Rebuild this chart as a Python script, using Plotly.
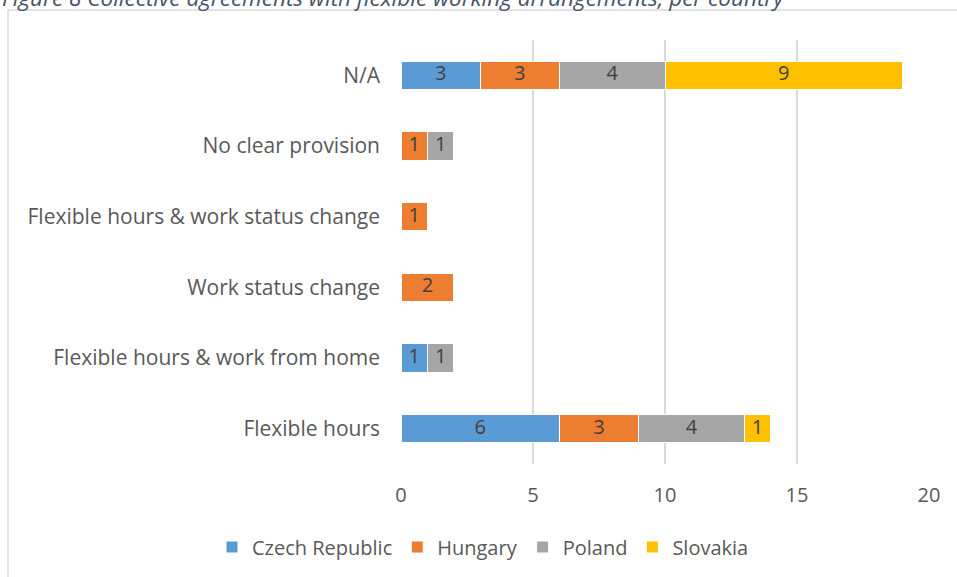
import plotly.graph_objects as go

categories = [
    "Flexible hours",
    "Flexible hours & work from home",
    "Work status change",
    "Flexible hours & work status change",
    "No clear provision",
    "N/A",
]
czech = [6, 1, None, None, None, 3]
hungary = [3, None, 2, 1, 1, 3]
poland = [4, 1, None, None, 1, 4]
slovakia = [1, None, None, None, None, 9]

series = [
    ("Czech Republic", czech, "#5B9BD5"),
    ("Hungary", hungary, "#ED7D31"),
    ("Poland", poland, "#A5A5A5"),
    ("Slovakia", slovakia, "#FFC000"),
]

W, H = 957, 577
L, R, T, B = 401, 28, 40, 113
FONT = "'Open Sans', sans-serif"


def px_to_paper_x(px):
    return (px - L) / (W - L - R)


def px_to_paper_y(py):
    return 1 - (py - T) / (H - T - B)


fig = go.Figure()
base = [0] * len(categories)
for name, values, color in series:
    fig.add_trace(
        go.Bar(
            y=categories,
            x=values,
            name=name,
            orientation="h",
            marker=dict(color=color, line=dict(color="white", width=1)),
            width=0.4,
        )
    )
    # value labels centred on each segment, kept at full size
    mids, labels, cats = [], [], []
    for i, v in enumerate(values):
        if v:
            mids.append(base[i] + v / 2)
            labels.append(str(v))
            cats.append(categories[i])
            base[i] += v
    fig.add_trace(
        go.Scatter(
            x=mids,
            y=cats,
            mode="text",
            text=labels,
            textposition="middle center",
            textfont=dict(color="#404040", size=20, family=FONT),
            showlegend=False,
            hoverinfo="skip",
        )
    )

fig.update_layout(
    barmode="stack",
    width=W,
    height=H,
    margin=dict(l=L, r=R, t=T, b=B, autoexpand=False),
    paper_bgcolor="white",
    plot_bgcolor="white",
    font=dict(family=FONT, color="#595959", size=20),
    legend=dict(
        orientation="h",
        x=px_to_paper_x(212),
        xanchor="left",
        y=px_to_paper_y(547),
        yanchor="middle",
        font=dict(size=20, color="#595959"),
        traceorder="normal",
        itemwidth=30,
    ),
    showlegend=True,
)
fig.update_xaxes(
    range=[0, 20],
    dtick=5,
    showgrid=True,
    gridcolor="#D9D9D9",
    gridwidth=2,
    zeroline=False,
    showline=False,
    ticks="",
    ticklabelstandoff=17,
    tickfont=dict(size=20, color="#595959"),
    automargin=False,
)
fig.update_yaxes(
    categoryorder="array",
    categoryarray=categories,
    showgrid=False,
    showline=False,
    ticks="",
    ticklabelstandoff=20,
    tickfont=dict(size=21, color="#595959"),
    automargin=False,
)

# chart border box (partly outside the window)
fig.add_shape(
    type="rect",
    xref="paper",
    yref="paper",
    x0=px_to_paper_x(8),
    x1=px_to_paper_x(1000),
    y0=px_to_paper_y(620),
    y1=px_to_paper_y(10),
    line=dict(color="#D9D9D9", width=1.5),
    layer="below",
)

fig.add_annotation(
    text="<i>Figure 8 Collective agreements with flexible working arrangements, per country</i>",
    xref="paper",
    yref="paper",
    x=px_to_paper_x(0),
    y=px_to_paper_y(-2),
    xanchor="left",
    yanchor="middle",
    showarrow=False,
    font=dict(size=22.5, color="#44546A", family=FONT),
)

fig.write_html(
    "out.html",
    config={"displayModeBar": False},
    post_script="document.body.style.margin = '0';",
)
